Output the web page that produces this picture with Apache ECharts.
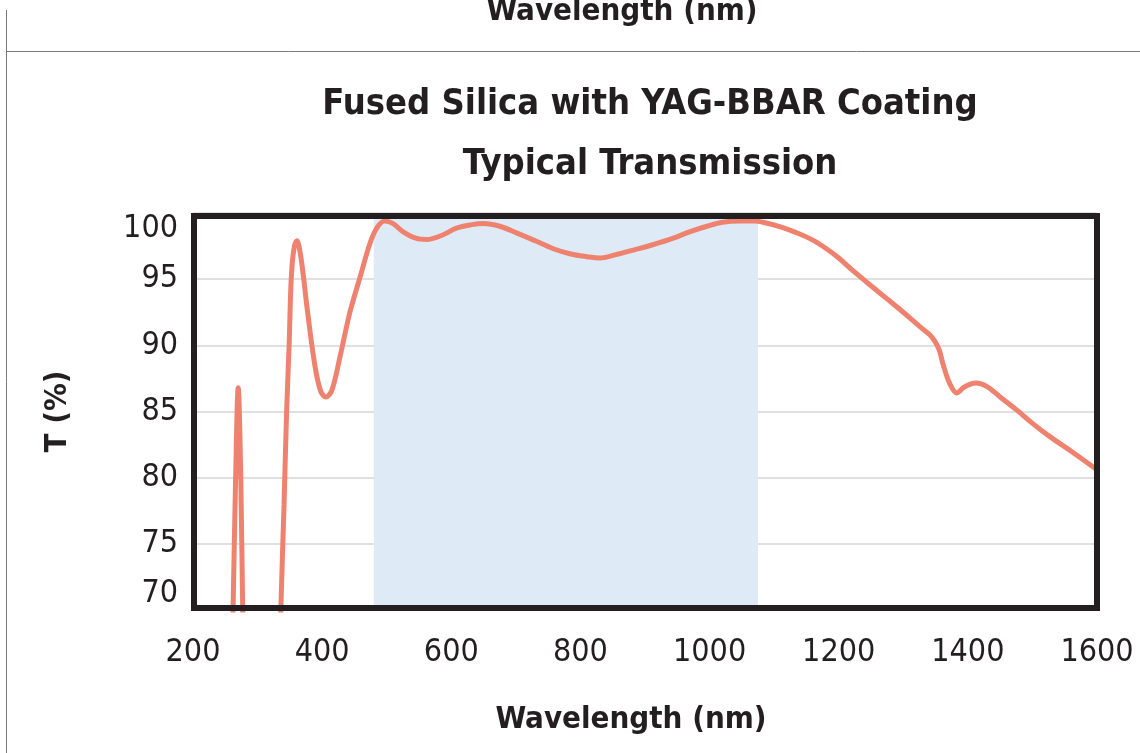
<!DOCTYPE html>
<html>
<head>
<meta charset="utf-8">
<title>Fused Silica with YAG-BBAR Coating</title>
<script src="https://cdn.jsdelivr.net/npm/echarts@6/dist/echarts.min.js"></script>
<style>
	html, body { margin: 0; padding: 0; background: #fff; }
	#main { width: 1140px; height: 753px; }
</style>
</head>
<body>
<div id="main"></div>
<script>
	// wavelength (nm) / transmission (%)
	var wavelength = [
		230, 250, 258, 262, 266, 270, 274, 277, 281, 300, 320, 330,
		336, 341, 345, 349, 352, 356, 361, 366, 371, 377, 389, 398, 406, 415,
		428, 443, 459, 474, 485, 497, 510, 525, 545, 562, 585, 608, 630, 650,
		675, 701, 730, 758, 785, 810, 830, 855, 882, 912, 944, 970, 996, 1020,
		1047, 1070, 1083, 1110, 1135, 1160, 1181, 1200, 1223, 1250, 1274, 1300,
		1326, 1341, 1349, 1356, 1362, 1372, 1383, 1393, 1403, 1413, 1429, 1450,
		1476, 1500, 1527, 1560, 1600
	];
	var transmission = [
		30, 45, 62, 70, 80, 86.8, 80, 70, 62, 40, 45, 58,
		70, 78, 85, 90.2, 94.9, 97.2, 97.9, 97.0, 95.2, 92.7, 88.4, 86.5, 86.1, 86.6,
		89.2, 92.5, 95.2, 97.7, 98.9, 99.4, 99.2, 98.6, 98.1, 98.0, 98.3, 98.85, 99.1, 99.2,
		99.0, 98.5, 97.9, 97.3, 96.9, 96.7, 96.6, 96.85, 97.2, 97.6, 98.1, 98.6, 99.0, 99.3,
		99.4, 99.4, 99.3, 98.95, 98.5, 97.95, 97.3, 96.6, 95.6, 94.5, 93.55, 92.5,
		91.4, 90.8, 90.3, 89.6, 88.5, 87.1, 86.4, 86.8, 87.05, 87.15, 86.9, 86.1,
		85.1, 84.1, 83.1, 82.0, 80.6
	];
	// coating design band (shaded)
	var bandRange = [480, 1075];
	var yTicks = [70, 75, 80, 85, 90, 95, 100];
	var xTicks = [200, 400, 600, 800, 1000, 1200, 1400, 1600];

	var font = "'Liberation Sans Narrow', 'Arial Narrow', 'DejaVu Sans Condensed', sans-serif";
	var ink = '#231f20';

	var points = [];
	for (var i = 0; i < wavelength.length; i++) {
		points.push([wavelength[i], transmission[i]]);
	}

	var chart = echarts.init(document.getElementById('main'));
	var option = {
		animation: false,
		title: {
			text: 'Fused Silica with YAG-BBAR Coating\nTypical Transmission',
			left: 645,
			top: 70,
			textAlign: 'center',
			textStyle: {
				fontFamily: font,
				fontWeight: 'bold',
				fontSize: 36,
				lineHeight: 60,
				color: ink
			}
		},
		grid: {
			left: 193,
			right: 43,
			top: 213,
			bottom: 143,
			outerBoundsMode: 'none',
			containLabel: false
		},
		xAxis: {
			type: 'value',
			min: xTicks[0],
			max: xTicks[xTicks.length - 1],
			interval: 200,
			name: 'Wavelength (nm)',
			nameLocation: 'middle',
			nameGap: 94,
			nameTextStyle: {
				fontFamily: font,
				fontWeight: 'bold',
				fontSize: 31,
				color: ink,
				padding: [0, 28, 0, 0]
			},
			axisLine: { show: false },
			axisTick: { show: false },
			splitLine: { show: false },
			axisLabel: {
				margin: 27,
				fontFamily: font,
				fontSize: 32,
				color: ink,
				formatter: function (v) { return String(v); }
			}
		},
		yAxis: {
			type: 'value',
			min: yTicks[0],
			max: yTicks[yTicks.length - 1],
			interval: 5,
			name: 'T (%)',
			nameLocation: 'middle',
			nameGap: 120,
			nameTextStyle: {
				fontFamily: font,
				fontWeight: 'bold',
				fontSize: 31,
				color: ink
			},
			axisLine: { show: false },
			axisTick: { show: false },
			splitLine: {
				lineStyle: { color: '#d6d6d6', width: 1.5 }
			},
			axisLabel: {
				margin: 15,
				fontFamily: font,
				fontSize: 32,
				color: ink,
				verticalAlignMaxLabel: 'top',
				verticalAlignMinLabel: 'bottom'
			}
		},
		graphic: [
			// plot frame
			{
				type: 'rect',
				z: 100,
				shape: { x: 194, y: 216, width: 903, height: 392 },
				style: { fill: null, stroke: ink, lineWidth: 6 }
			},
			// page rules
			{
				type: 'line',
				z: 100,
				shape: { x1: 6.5, y1: 10, x2: 6.5, y2: 753 },
				style: { stroke: '#7a7a7a', lineWidth: 1 }
			},
			{
				type: 'line',
				z: 100,
				shape: { x1: 6, y1: 51.5, x2: 1140, y2: 51.5 },
				style: { stroke: '#7a7a7a', lineWidth: 1 }
			},
			// cut-off label from the previous panel
			{
				type: 'text',
				z: 100,
				x: 622,
				y: 27,
				style: {
					text: 'Wavelength (nm)',
					fontFamily: font,
					fontWeight: 'bold',
					fontSize: 31,
					fill: ink,
					align: 'center',
					verticalAlign: 'bottom'
				}
			}
		],
		series: [
			{
				type: 'line',
				data: points,
				smooth: 0.35,
				showSymbol: false,
				clip: true,
				lineStyle: { color: '#ef826f', width: 5 },
				markArea: {
					silent: true,
					itemStyle: { color: '#deebf6' },
					data: [[{ xAxis: bandRange[0] }, { xAxis: bandRange[1] }]]
				}
			}
		]
	};
	chart.setOption(option);
</script>
</body>
</html>
